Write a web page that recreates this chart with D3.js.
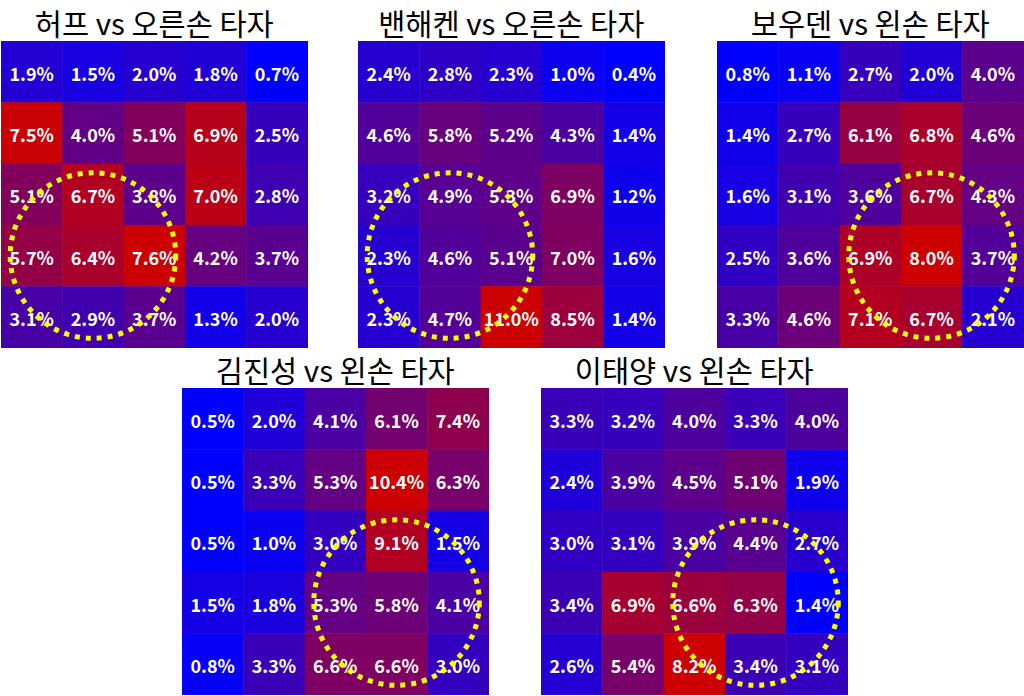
<!DOCTYPE html>
<html>
<head>
<meta charset="utf-8">
<script src="https://cdn.jsdelivr.net/npm/d3@7"></script>
<style>
  html, body { margin: 0; padding: 0; background: #fff; }
  svg { display: block; }
</style>
</head>
<body>
<svg id="chart" width="1024" height="696"></svg>
<script>
// ---- data ----
const titles = ["허프 vs 오른손 타자", "밴해켄 vs 오른손 타자", "보우덴 vs 왼손 타자", "김진성 vs 왼손 타자", "이태양 vs 왼손 타자"];
const hufValues = [
  [1.9, 1.5, 2.0, 1.8, 0.7],
  [7.5, 4.0, 5.1, 6.9, 2.5],
  [5.1, 6.7, 3.8, 7.0, 2.8],
  [5.7, 6.4, 7.6, 4.2, 3.7],
  [3.1, 2.9, 3.7, 1.3, 2.0]
];
const vanValues = [
  [2.4, 2.8, 2.3, 1.0, 0.4],
  [4.6, 5.8, 5.2, 4.3, 1.4],
  [3.2, 4.9, 5.3, 6.9, 1.2],
  [2.3, 4.6, 5.1, 7.0, 1.6],
  [2.3, 4.7, 11.0, 8.5, 1.4]
];
const bowValues = [
  [0.8, 1.1, 2.7, 2.0, 4.0],
  [1.4, 2.7, 6.1, 6.8, 4.6],
  [1.6, 3.1, 3.6, 6.7, 4.3],
  [2.5, 3.6, 6.9, 8.0, 3.7],
  [3.3, 4.6, 7.1, 6.7, 2.1]
];
const kimValues = [
  [0.5, 2.0, 4.1, 6.1, 7.4],
  [0.5, 3.3, 5.3, 10.4, 6.3],
  [0.5, 1.0, 3.0, 9.1, 1.5],
  [1.5, 1.8, 5.3, 5.8, 4.1],
  [0.8, 3.3, 6.6, 6.6, 3.0]
];
const leeValues = [
  [3.3, 3.2, 4.0, 3.3, 4.0],
  [2.4, 3.9, 4.5, 5.1, 1.9],
  [3.0, 3.1, 3.9, 4.4, 2.7],
  [3.4, 6.9, 6.6, 6.3, 1.4],
  [2.6, 5.4, 8.2, 3.4, 3.1]
];
const seriesValues = [hufValues, vanValues, bowValues, kimValues, leeValues];
// circle centres (column, row) in cell units
const circleCols = [1.5, 1.5, 3.5, 3.5, 3.5];
const circleRows = [3.5, 3.5, 3.5, 3.5, 3.5];
const circleRadius = 1.35;

// ---- layout ----
const panelPos = [[1, 41], [358, 41], [717, 41], [182, 388], [541, 388]];
const panelSize = 306.5;
const idx = [0, 1, 2, 3, 4];

const svg = d3.select("#chart");

seriesValues.forEach((values, p) => {
  const [px, py] = panelPos[p];
  const g = svg.append("g").attr("transform", `translate(${px},${py})`);
  const x = d3.scaleBand().domain(idx).range([0, panelSize]);
  const y = d3.scaleBand().domain(idx).range([0, panelSize]);
  const cx = d3.scaleLinear().domain([0, 5]).range([0, panelSize]);
  const flat = values.flat();
  const color = d3.scaleLinear()
    .domain(d3.extent(flat))
    .range(["rgb(0,0,255)", "rgb(204,0,0)"])
    .interpolate(d3.interpolateRgb);

  const cells = [];
  values.forEach((row, r) => row.forEach((v, c) => cells.push({ r, c, v })));

  g.selectAll("rect").data(cells).join("rect")
    .attr("x", d => x(d.c))
    .attr("y", d => y(d.r))
    .attr("width", x.bandwidth() + 0.5)
    .attr("height", y.bandwidth() + 0.5)
    .attr("fill", d => color(d.v));

  g.selectAll("text.val").data(cells).join("text")
    .attr("class", "val")
    .attr("x", d => x(d.c) + x.bandwidth() / 2)
    .attr("y", d => y(d.r) + y.bandwidth() / 2 + 1)
    .attr("text-anchor", "middle")
    .attr("dominant-baseline", "central")
    .attr("fill", "#fff")
    .attr("font-family", "'Noto Sans CJK KR', 'Noto Sans', sans-serif")
    .attr("font-weight", "bold")
    .attr("font-size", 18)
    .text(d => d.v.toFixed(1) + "%");

  g.append("circle")
    .attr("cx", cx(circleCols[p]))
    .attr("cy", cx(circleRows[p]))
    .attr("r", cx(circleRadius) - cx(0))
    .attr("fill", "none")
    .attr("stroke", "#ffff00")
    .attr("stroke-width", 5)
    .attr("stroke-dasharray", "5,6");

  g.append("text")
    .attr("x", panelSize / 2)
    .attr("y", -6)
    .attr("text-anchor", "middle")
    .attr("fill", "#000")
    .attr("font-family", "'Noto Sans CJK KR', sans-serif")
    .attr("font-size", 29.5)
    .text(titles[p]);
});
</script>
</body>
</html>
